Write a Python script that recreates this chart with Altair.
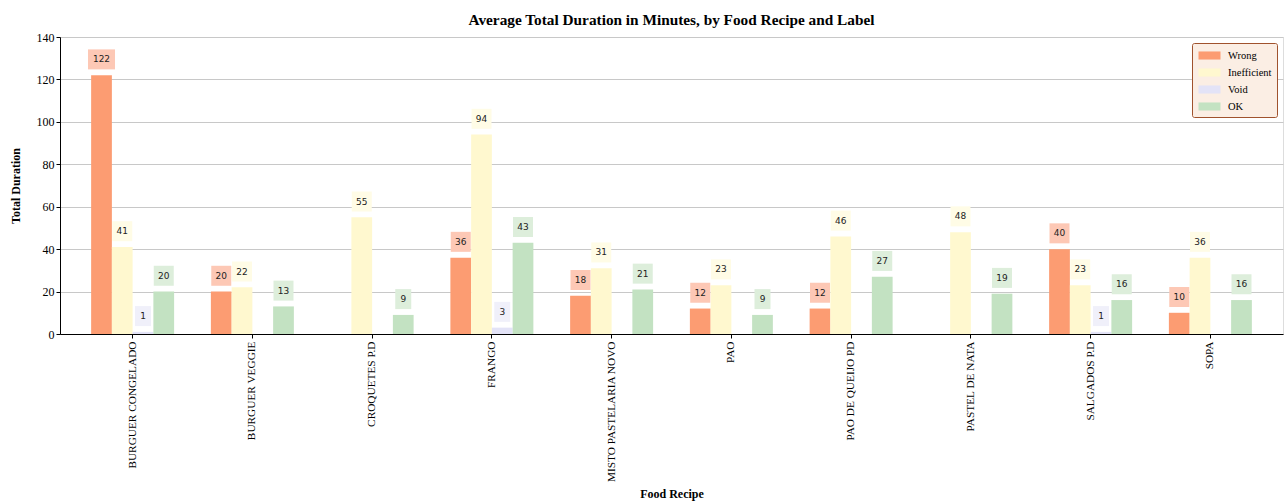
import altair as alt
import pandas as pd

recipes = [
    "BURGUER CONGELADO", "BURGUER VEGGIE", "CROQUETES P.D", "FRANGO",
    "MISTO PASTELARIA NOVO", "PAO", "PAO DE QUEIJO PD", "PASTEL DE NATA",
    "SALGADOS P.D", "SOPA",
]
labels = ["Wrong", "Inefficient", "Void", "OK"]

# average duration in minutes per recipe (None = no records for that label)
wrong = [122, 20, None, 36, 18, 12, 12, None, 40, 10]
inefficient = [41, 22, 55, 94, 31, 23, 46, 48, 23, 36]
void = [1, None, None, 3, None, None, None, None, 1, None]
ok = [20, 13, 9, 43, 21, 9, 27, 19, 16, 16]

bar_colors = ["#fc9c72", "#fff8cf", "#e3e3f7", "#c3e2c2"]
box_colors = ["#fdc8b5", "#fffce6", "#f0f0fa", "#ddeedb"]

rows = []
for lab, series in zip(labels, [wrong, inefficient, void, ok]):
    for rec, v in zip(recipes, series):
        if v is not None:
            rows.append({"recipe": rec, "label": lab, "value": v})
df = pd.DataFrame(rows)

W, H = 1223, 297
YMAX = 140
PX = H / YMAX  # pixels per minute

x_enc = alt.X(
    "recipe:N",
    sort=recipes,
    scale=alt.Scale(paddingInner=0.307, paddingOuter=0.26),
    axis=alt.Axis(
        title="Food Recipe", labelAngle=270, labelFont="Liberation Serif",
        labelFontSize=11.3, labelColor="black", titleFont="Liberation Serif",
        titleFontSize=12, titleFontWeight="bold", titleColor="black",
        tickColor="black", tickSize=4, labelPadding=3, domainColor="black",
        titleY=159, titleBaseline="middle", grid=False,
    ),
)
xoff = alt.XOffset("label:N", sort=labels,
                   scale=alt.Scale(domain=labels, paddingInner=0, paddingOuter=0))

base = alt.Chart(df)

bars = base.mark_bar().encode(
    x=x_enc,
    xOffset=xoff,
    y=alt.Y(
        "value:Q",
        scale=alt.Scale(domain=[0, YMAX], nice=False),
        axis=alt.Axis(
            title="Total Duration", values=list(range(0, 141, 20)),
            labelFont="Liberation Serif", labelFontSize=12, labelColor="black",
            titleFont="Liberation Serif", titleFontSize=12, titleFontWeight="bold",
            titleColor="black", tickColor="black", tickSize=4, domainColor="black",
            gridColor="#c8c8c8", gridWidth=1, titlePadding=14,
        ),
    ),
    color=alt.Color(
        "label:N",
        sort=labels,
        scale=alt.Scale(domain=labels, range=bar_colors),
        legend=alt.Legend(
            title=None, orient="top-right", offset=6,
            fillColor="#fbeee4", strokeColor="#a0522d",
            cornerRadius=2, padding=5, rowPadding=4,
            symbolType="M-1.5,-0.55H1.5V0.55H-1.5Z", symbolSize=215,
            symbolOffset=5, symbolStrokeWidth=0, symbolOpacity=1,
            labelFont="Liberation Serif", labelFontSize=10.5, labelColor="black",
            labelOffset=11,
        ),
    ),
)

boxes = base.transform_calculate(
    lo=f"datum.value + 5.8 / {PX}",
    hi=f"datum.value + 25.8 / {PX}",
    bw="datum.value >= 100 ? 27 : (datum.value >= 10 ? 20 : 16)",
).mark_bar().encode(
    x=alt.X("recipe:N", sort=recipes),
    xOffset=xoff,
    y="lo:Q",
    y2="hi:Q",
    size=alt.Size("bw:Q", scale=None),
    color=alt.Color("label:N", sort=labels,
                    scale=alt.Scale(domain=labels, range=box_colors), legend=None),
)

texts = base.mark_text(
    dy=-15.8, baseline="middle", align="center",
    font="DejaVu Sans", fontSize=9, color="#222222",
).encode(
    x=alt.X("recipe:N", sort=recipes),
    xOffset=xoff,
    y="value:Q",
    text="value:Q",
)

chart = (
    alt.layer(bars, boxes, texts)
    .resolve_scale(color="independent")
    .properties(
        width=W, height=H,
        autosize=alt.AutoSizeParams(type="none"),
        padding={"left": 60, "top": 37, "right": 2, "bottom": 168},
        title=alt.TitleParams(
            "Average Total Duration in Minutes, by Food Recipe and Label",
            font="Liberation Serif", fontSize=15.3, fontWeight="bold",
            color="black", anchor="middle", offset=3,
        ),
    )
    .configure_view(stroke="black", strokeWidth=1)
    .configure(background="white")
)

chart.save("out.html", embed_options={"renderer": "svg", "actions": False})
